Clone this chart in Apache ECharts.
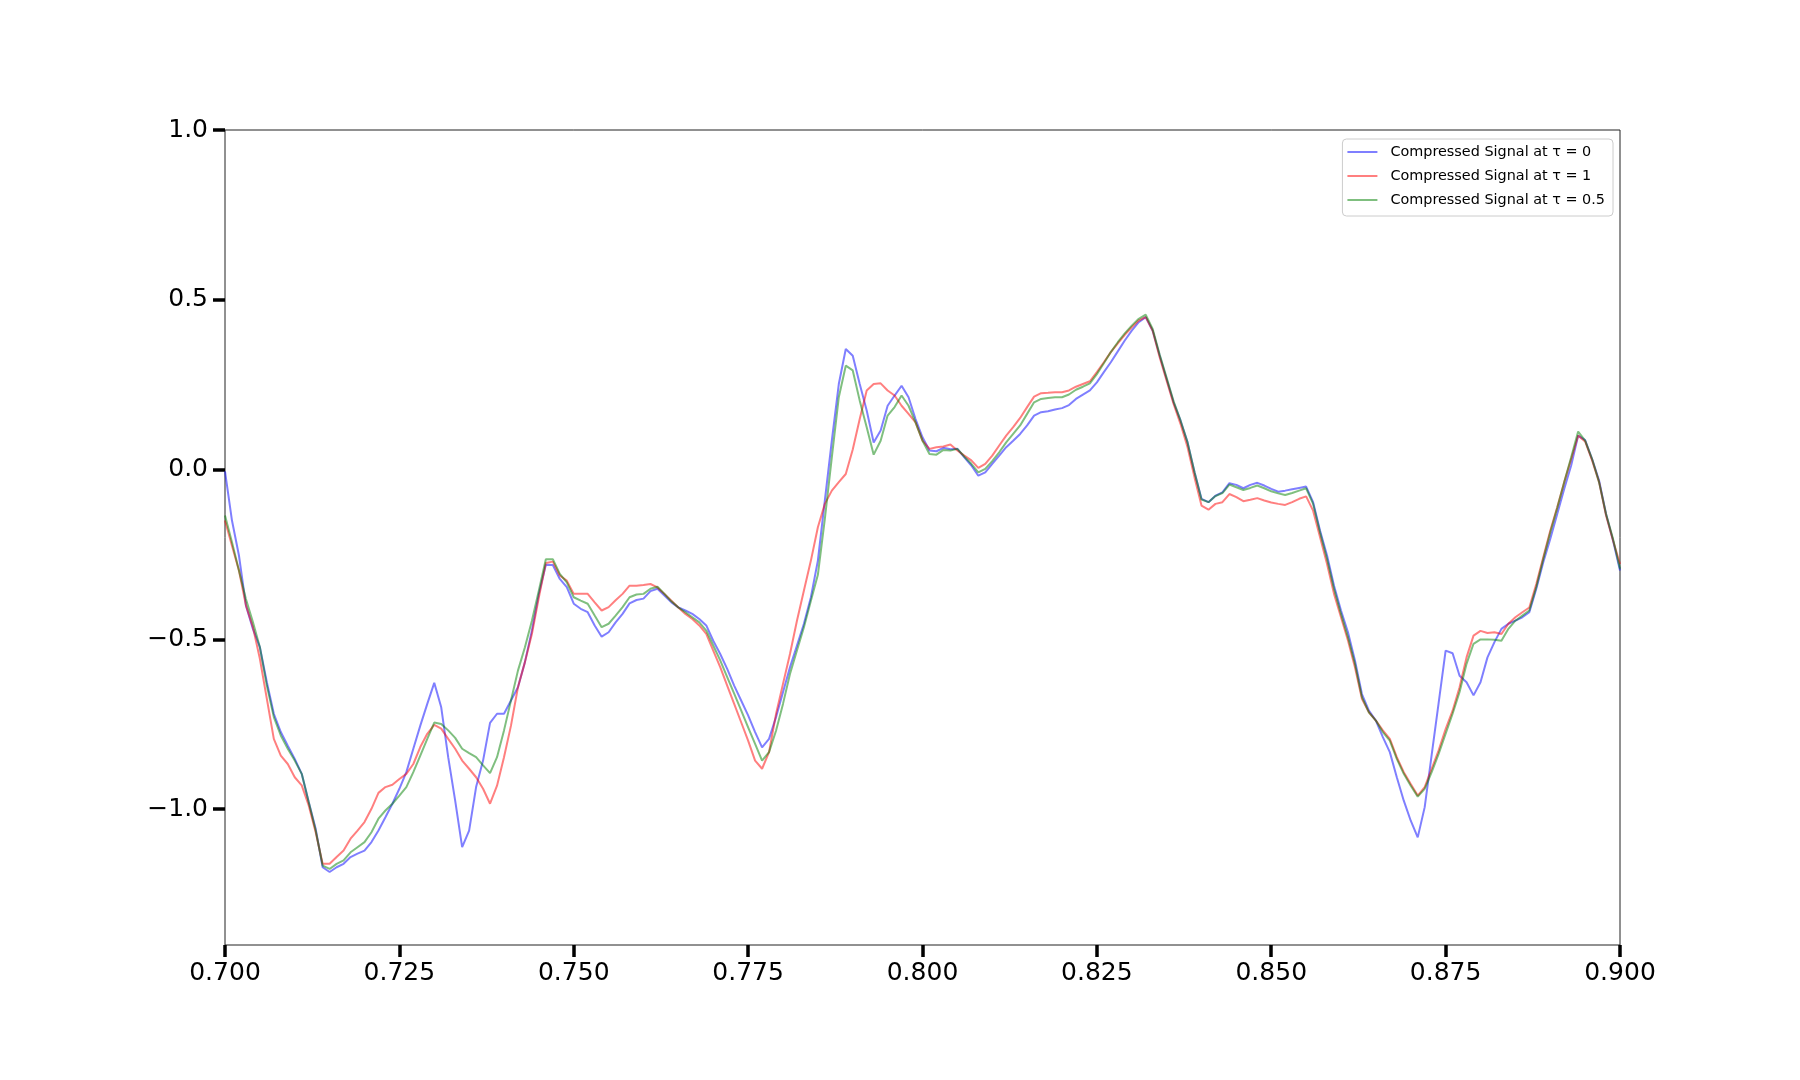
<!DOCTYPE html>
<html>
<head>
<meta charset="utf-8">
<script src="https://cdn.jsdelivr.net/npm/echarts@6/dist/echarts.min.js"></script>
<style>
html,body{margin:0;padding:0;background:#fff;}
#chart{width:1800px;height:1080px;}
</style>
</head>
<body>
<div id="chart"></div>
<script>
// Sample grid (time axis), one sample every 0.001 from 0.700 to 0.900
const tStart = 0.7;
const tStep = 0.001;

const xTicks = [0.700, 0.725, 0.750, 0.775, 0.800, 0.825, 0.850, 0.875, 0.900];
const yTicks = [-1.0, -0.5, 0.0, 0.5, 1.0];

const seriesNames = [
  'Compressed Signal at \u03c4 = 0',
  'Compressed Signal at \u03c4 = 1',
  'Compressed Signal at \u03c4 = 0.5'
];

const signalTau0 = [
-0.005,-0.150,-0.253,-0.400,-0.469,-0.523,-0.626,-0.719,-0.773,-0.813,
-0.852,-0.896,-0.979,-1.058,-1.171,-1.185,-1.171,-1.161,-1.141,-1.131,
-1.122,-1.097,-1.063,-1.024,-0.984,-0.940,-0.891,-0.822,-0.754,-0.690,
-0.628,-0.700,-0.847,-0.975,-1.112,-1.063,-0.935,-0.857,-0.746,-0.719,
-0.719,-0.680,-0.641,-0.567,-0.474,-0.366,-0.280,-0.281,-0.322,-0.346,
-0.395,-0.410,-0.420,-0.459,-0.492,-0.479,-0.450,-0.425,-0.394,-0.384,
-0.380,-0.358,-0.351,-0.371,-0.391,-0.406,-0.415,-0.425,-0.440,-0.459,
-0.504,-0.543,-0.587,-0.636,-0.680,-0.724,-0.773,-0.818,-0.793,-0.729,
-0.656,-0.582,-0.518,-0.454,-0.376,-0.268,-0.091,0.085,0.252,0.355,
0.335,0.252,0.174,0.080,0.115,0.188,0.218,0.247,0.213,0.149,
0.095,0.056,0.054,0.064,0.060,0.061,0.036,0.012,-0.018,-0.008,
0.017,0.041,0.066,0.085,0.105,0.130,0.159,0.169,0.172,0.177,
0.181,0.190,0.208,0.221,0.233,0.257,0.287,0.316,0.348,0.380,
0.409,0.434,0.449,0.409,0.336,0.267,0.198,0.144,0.080,-0.008,
-0.086,-0.096,-0.077,-0.067,-0.040,-0.045,-0.055,-0.045,-0.039,-0.047,
-0.057,-0.065,-0.062,-0.058,-0.054,-0.050,-0.096,-0.180,-0.253,-0.342,
-0.415,-0.479,-0.562,-0.661,-0.710,-0.739,-0.788,-0.832,-0.906,-0.975,
-1.034,-1.083,-0.994,-0.840,-0.687,-0.533,-0.541,-0.607,-0.626,-0.665,
-0.626,-0.553,-0.508,-0.469,-0.454,-0.445,-0.435,-0.420,-0.351,-0.273,
-0.204,-0.131,-0.057,0.012,0.100,0.087,0.031,-0.032,-0.131,-0.209,
-0.297
];

const signalTau1 = [
-0.150,-0.224,-0.297,-0.400,-0.464,-0.557,-0.675,-0.793,-0.842,-0.867,
-0.906,-0.930,-0.989,-1.068,-1.161,-1.161,-1.141,-1.122,-1.087,-1.063,
-1.038,-0.999,-0.952,-0.935,-0.928,-0.911,-0.896,-0.867,-0.817,-0.778,
-0.752,-0.763,-0.793,-0.822,-0.857,-0.881,-0.906,-0.940,-0.984,-0.931,
-0.847,-0.754,-0.641,-0.567,-0.484,-0.376,-0.275,-0.271,-0.312,-0.327,
-0.366,-0.366,-0.366,-0.391,-0.415,-0.405,-0.385,-0.366,-0.342,-0.342,
-0.340,-0.337,-0.347,-0.366,-0.386,-0.406,-0.425,-0.440,-0.459,-0.484,
-0.533,-0.582,-0.636,-0.690,-0.744,-0.798,-0.857,-0.881,-0.832,-0.720,
-0.631,-0.543,-0.445,-0.356,-0.268,-0.170,-0.101,-0.062,-0.037,-0.013,
0.059,0.149,0.233,0.252,0.254,0.233,0.218,0.188,0.164,0.139,
0.085,0.061,0.066,0.068,0.074,0.056,0.041,0.027,0.005,0.017,
0.041,0.071,0.100,0.125,0.152,0.184,0.215,0.225,0.226,0.228,
0.228,0.233,0.244,0.252,0.260,0.287,0.316,0.346,0.372,0.397,
0.419,0.439,0.449,0.409,0.331,0.262,0.193,0.134,0.066,-0.023,
-0.106,-0.118,-0.101,-0.096,-0.072,-0.081,-0.093,-0.089,-0.084,-0.091,
-0.097,-0.101,-0.104,-0.096,-0.086,-0.079,-0.121,-0.199,-0.278,-0.366,
-0.435,-0.503,-0.582,-0.675,-0.715,-0.739,-0.768,-0.793,-0.847,-0.891,
-0.926,-0.960,-0.935,-0.881,-0.827,-0.764,-0.710,-0.641,-0.553,-0.489,
-0.475,-0.481,-0.479,-0.484,-0.454,-0.435,-0.420,-0.406,-0.337,-0.258,
-0.180,-0.111,-0.037,0.031,0.100,0.083,0.027,-0.037,-0.135,-0.209,
-0.278
];

const signalTau05 = [
-0.135,-0.214,-0.297,-0.381,-0.449,-0.523,-0.636,-0.729,-0.783,-0.822,
-0.857,-0.896,-0.979,-1.063,-1.166,-1.176,-1.161,-1.151,-1.127,-1.112,
-1.097,-1.068,-1.028,-1.004,-0.984,-0.960,-0.935,-0.891,-0.842,-0.793,
-0.745,-0.749,-0.768,-0.790,-0.822,-0.835,-0.847,-0.871,-0.894,-0.847,
-0.768,-0.680,-0.592,-0.523,-0.445,-0.356,-0.264,-0.264,-0.307,-0.332,
-0.376,-0.386,-0.395,-0.430,-0.464,-0.454,-0.430,-0.405,-0.376,-0.368,
-0.366,-0.351,-0.345,-0.366,-0.388,-0.406,-0.420,-0.435,-0.450,-0.474,
-0.518,-0.562,-0.611,-0.660,-0.709,-0.759,-0.808,-0.857,-0.832,-0.769,
-0.690,-0.602,-0.533,-0.464,-0.386,-0.310,-0.145,0.036,0.213,0.306,
0.292,0.203,0.125,0.044,0.085,0.159,0.184,0.218,0.188,0.139,
0.085,0.046,0.044,0.058,0.056,0.061,0.038,0.017,-0.008,0.002,
0.025,0.051,0.080,0.105,0.130,0.164,0.198,0.208,0.211,0.213,
0.213,0.221,0.235,0.244,0.254,0.281,0.313,0.346,0.375,0.401,
0.424,0.444,0.456,0.414,0.339,0.270,0.201,0.144,0.080,-0.008,
-0.088,-0.096,-0.078,-0.069,-0.044,-0.052,-0.060,-0.054,-0.047,-0.055,
-0.064,-0.070,-0.075,-0.069,-0.062,-0.055,-0.101,-0.185,-0.263,-0.351,
-0.425,-0.494,-0.572,-0.670,-0.715,-0.739,-0.773,-0.798,-0.852,-0.896,
-0.931,-0.963,-0.940,-0.891,-0.837,-0.778,-0.719,-0.655,-0.572,-0.513,
-0.500,-0.500,-0.501,-0.504,-0.469,-0.445,-0.430,-0.415,-0.346,-0.263,
-0.185,-0.113,-0.037,0.036,0.112,0.085,0.031,-0.037,-0.131,-0.204,
-0.292
];

const lineColors = ['rgba(0,0,255,0.5)', 'rgba(255,0,0,0.5)', 'rgba(0,128,0,0.5)'];

function toPairs(values) {
  return values.map((v, i) => [+(tStart + i * tStep).toFixed(4), v]);
}

const chart = echarts.init(document.getElementById('chart'), null, {renderer: 'canvas'});
const font = 'DejaVu Sans';
const allSignals = [signalTau0, signalTau1, signalTau05];

chart.setOption({
  animation: false,
  backgroundColor: '#ffffff',
  grid: {
    left: 225, right: 180, top: 130, bottom: 135,
    show: true, borderColor: '#222', borderWidth: 1, backgroundColor: 'transparent'
  },
  legend: {
    orient: 'vertical',
    right: 187, top: 139,
    padding: [6, 8, 9, 5],
    itemGap: 10,
    itemWidth: 30, itemHeight: 2,
    icon: 'rect',
    selectedMode: false,
    backgroundColor: 'rgba(255,255,255,0.8)',
    borderColor: '#cccccc', borderWidth: 1, borderRadius: 4,
    textStyle: {fontFamily: font, fontSize: 14.4, color: '#000', padding: [0, 0, 0, 8]},
    data: seriesNames
  },
  xAxis: {
    type: 'value',
    min: 0.7, max: 0.9,
    axisLine: {show: false, onZero: false},
    splitLine: {show: false},
    axisTick: {show: true, length: 12, lineStyle: {color: '#000', width: 3.5}, customValues: xTicks},
    axisLabel: {
      customValues: xTicks,
      margin: 16,
      fontFamily: font, fontSize: 25, color: '#000',
      formatter: v => v.toFixed(3)
    }
  },
  yAxis: {
    type: 'value',
    min: -1.4, max: 1.0,
    axisLine: {show: false, onZero: false},
    splitLine: {show: false},
    axisTick: {show: true, length: 12, lineStyle: {color: '#000', width: 3.5}, customValues: yTicks},
    axisLabel: {
      customValues: yTicks,
      margin: 17,
      fontFamily: font, fontSize: 25, color: '#000',
      formatter: v => v.toFixed(1).replace('-', '\u2212')
    }
  },
  series: allSignals.map((vals, idx) => ({
    name: seriesNames[idx],
    type: 'line',
    data: toPairs(vals),
    showSymbol: false,
    symbol: 'none',
    color: lineColors[idx],
    lineStyle: {width: 2, color: lineColors[idx]},
    emphasis: {disabled: true},
    clip: true
  }))
});
</script>
</body>
</html>
